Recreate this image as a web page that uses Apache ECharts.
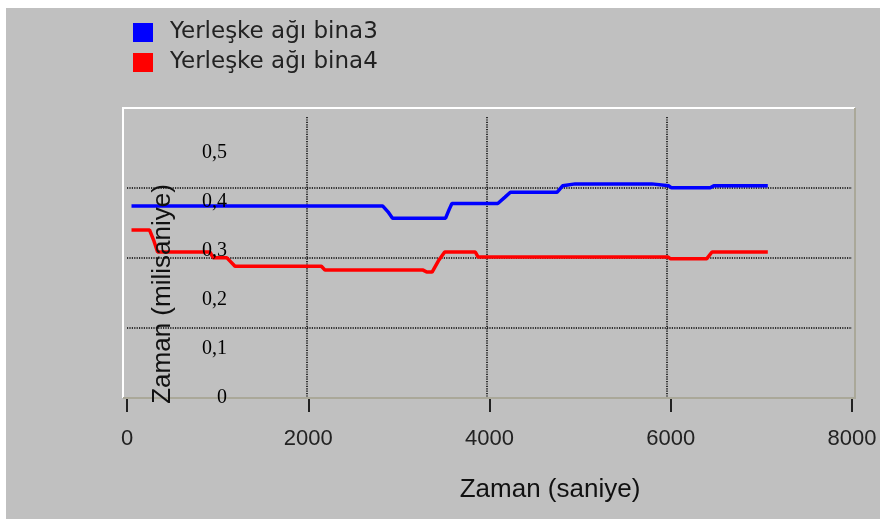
<!DOCTYPE html>
<html>
<head>
<meta charset="utf-8">
<script src="https://cdn.jsdelivr.net/npm/echarts@6/dist/echarts.min.js"></script>
<style>
  html, body { margin: 0; padding: 0; background: #ffffff; }
  #chart { position: absolute; left: 6px; top: 8px; width: 874px; height: 511px; background: #c0c0c0; }
</style>
</head>
<body>
<div id="chart"></div>
<script>
// seriler (zaman saniye, gecikme milisaniye)
var seriesNames = ['Yerleşke ağı bina3', 'Yerleşke ağı bina4'];
var blueTime  = [50, 2840, 2900, 2950, 3540, 3580, 3610, 4120, 4200, 4260, 4780, 4840, 4980, 5830, 5850, 6020, 6050, 6480, 6520, 7120];
var blueDelay = [0.392, 0.392, 0.38, 0.367, 0.367, 0.385, 0.397, 0.397, 0.41, 0.42, 0.42, 0.433, 0.437, 0.437, 0.433, 0.433, 0.429, 0.429, 0.433, 0.433];
var redTime   = [50, 250, 300, 340, 920, 960, 1110, 1200, 2160, 2200, 3290, 3330, 3390, 3460, 3530, 3870, 3900, 6010, 6040, 6440, 6500, 7120];
var redDelay  = [0.343, 0.343, 0.32, 0.298, 0.298, 0.286, 0.286, 0.269, 0.269, 0.261, 0.261, 0.257, 0.257, 0.28, 0.298, 0.298, 0.288, 0.288, 0.284, 0.284, 0.298, 0.298];
var xTicks = [0, 2000, 4000, 6000, 8000];
var yTicks = [0, 0.1, 0.2, 0.3, 0.4, 0.5];

function pairs(xs, ys) {
  return xs.map(function (x, i) { return [x, ys[i]]; });
}

var chart = echarts.init(document.getElementById('chart'));

var dotted = { color: '#000', width: 1.5, type: [1.2, 1.2] };

var option = {
  animation: false,
  legend: {
    orient: 'vertical',
    left: 127, top: 13, padding: 0,
    itemWidth: 20, itemHeight: 19, itemGap: 7,
    icon: 'rect',
    selectedMode: false,
    textStyle: { fontFamily: 'DejaVu Sans', fontSize: 23, color: '#222', lineHeight: 19, padding: [0, 0, 0, 12] },
    data: seriesNames
  },
  grid: [
    { left: 121, right: 33, top: 109, bottom: 121 },
    { left: 121, right: 28, top: 109, bottom: 121 }
  ],
  xAxis: [
    {
      gridIndex: 0, type: 'value',
      min: xTicks[0], max: xTicks[xTicks.length - 1], interval: 2000,
      axisLine: { show: false }, axisTick: { show: false }, axisLabel: { show: false },
      splitLine: { show: true, showMinLine: false, showMaxLine: false, lineStyle: dotted }
    },
    {
      gridIndex: 1, type: 'value',
      min: xTicks[0], max: xTicks[xTicks.length - 1], interval: 2000,
      offset: 4,
      axisLine: { show: false },
      axisTick: { show: true, length: 14, lineStyle: { color: '#222', width: 2 } },
      axisLabel: { margin: 26, color: '#222', fontSize: 22, fontFamily: '"Liberation Sans", Arial',
                   formatter: function (v) { return String(v); } },
      splitLine: { show: false }
    }
  ],
  yAxis: [
    {
      gridIndex: 0, type: 'value',
      min: yTicks[0], max: 0.5735, interval: 0.1,
      offset: -101, z: 5,
      axisLine: { show: false }, axisTick: { show: false },
      axisLabel: {
        margin: 1, color: '#000', fontSize: 20, fontFamily: '"Liberation Serif", "Times New Roman", serif',
        showMaxLabel: false,
        formatter: function (v) { return v === 0 ? '0' : v.toFixed(1).replace('.', ','); }
      },
      splitLine: { show: false }
    },
    {
      gridIndex: 1, type: 'value',
      min: 0, max: 4, interval: 1,
      axisLine: { show: false }, axisTick: { show: false }, axisLabel: { show: false },
      splitLine: { show: true, showMinLine: false, showMaxLine: false, lineStyle: dotted }
    }
  ],
  graphic: [
    { // cerceve
      type: 'polyline', z: 1, silent: true,
      shape: { points: [[117, 390], [117, 100], [849, 100]] },
      style: { stroke: '#ffffff', lineWidth: 2, fill: null }
    },
    {
      type: 'polyline', z: 1, silent: true,
      shape: { points: [[849, 100], [849, 390], [117, 390]] },
      style: { stroke: '#aaa899', lineWidth: 2, fill: null }
    },
    {
      type: 'text', z: 10, x: 157, y: 286, rotation: Math.PI / 2,
      style: { text: 'Zaman (milisaniye)', x: 0, y: 0, align: 'center', verticalAlign: 'middle',
               font: '26px "Liberation Sans", Arial, sans-serif', fill: '#111' }
    },
    {
      type: 'text', z: 10, x: 544, y: 482,
      style: { text: 'Zaman (saniye)', x: 0, y: 0, align: 'center', verticalAlign: 'middle',
               font: '26px "Liberation Sans", Arial, sans-serif', fill: '#111' }
    }
  ],
  series: [
    {
      name: seriesNames[0], type: 'line', xAxisIndex: 0, yAxisIndex: 0,
      showSymbol: false, symbol: 'none',
      lineStyle: { color: '#0000ff', width: 3.5 }, itemStyle: { color: '#0000ff' },
      data: pairs(blueTime, blueDelay)
    },
    {
      name: seriesNames[1], type: 'line', xAxisIndex: 0, yAxisIndex: 0,
      showSymbol: false, symbol: 'none',
      lineStyle: { color: '#ff0000', width: 3.5 }, itemStyle: { color: '#ff0000' },
      data: pairs(redTime, redDelay)
    }
  ]
};

chart.setOption(option);
</script>
</body>
</html>
